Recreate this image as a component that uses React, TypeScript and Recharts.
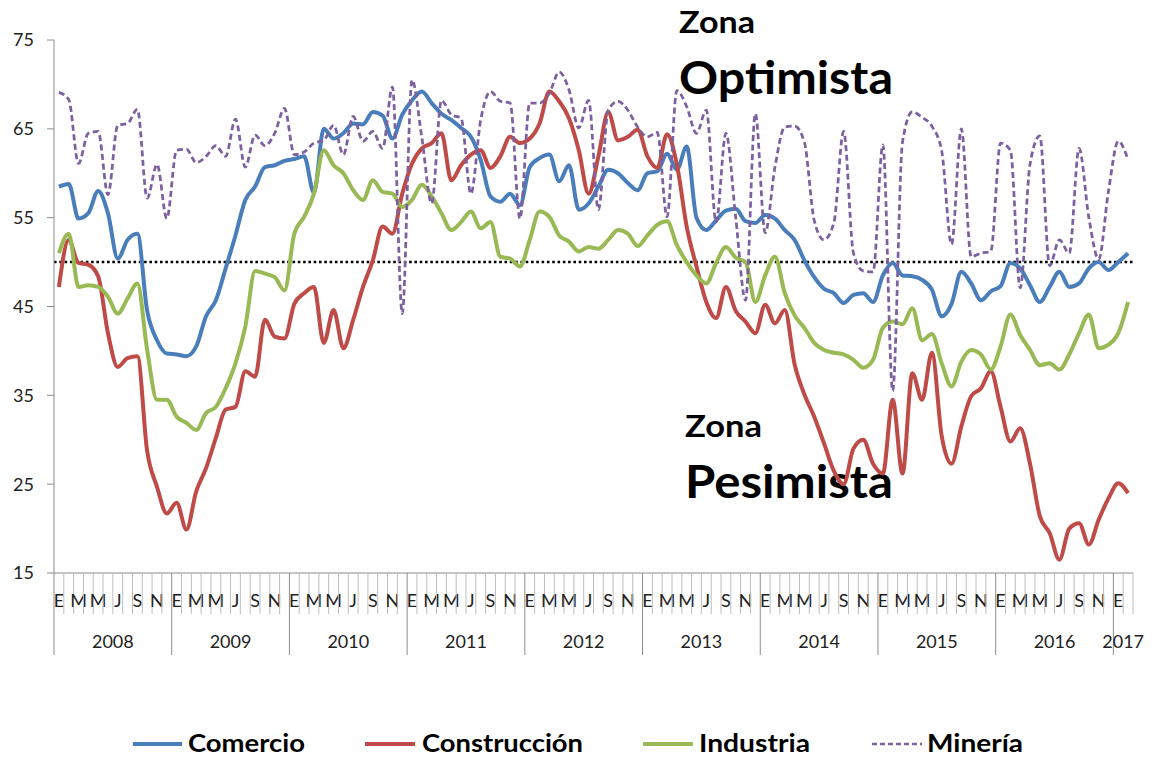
import React from 'react';
import { LineChart, Line, XAxis, YAxis, ReferenceLine, Legend, Customized } from 'recharts';

const MONTH_LETTERS = ['E', 'F', 'M', 'A', 'M', 'J', 'J', 'A', 'S', 'O', 'N', 'D'];
const START_YEAR = 2008;
const Y_TICKS = [15, 25, 35, 45, 55, 65, 75];

const comercio = [
  58.5, 58.8, 54.9, 55.5, 58.0, 55.5, 50.4, 52.5, 53.2, 44.5,
  41.2, 39.7, 39.6, 39.4, 40.5, 43.9, 45.7, 49.3, 53.0, 57.0,
  58.5, 60.7, 60.9, 61.4, 61.6, 61.9, 57.8, 65.0, 63.9, 64.5,
  65.6, 65.5, 66.9, 66.5, 63.9, 66.6, 68.2, 69.2, 67.9, 66.7,
  66.0, 65.1, 64.1, 61.5, 57.4, 56.8, 57.7, 56.4, 60.7, 61.7,
  62.1, 59.1, 60.9, 55.9, 56.6, 58.5, 60.4, 60.0, 58.9, 58.1,
  60.0, 60.2, 62.2, 60.4, 63.0, 55.0, 53.6, 54.7, 55.8, 56.0,
  54.6, 54.4, 55.3, 54.9, 53.6, 52.5, 50.2, 48.3, 47.0, 46.5,
  45.4, 46.3, 46.5, 45.5, 48.5, 49.9, 48.5, 48.4, 48.0, 46.9,
  43.9, 45.3, 48.9, 47.6, 45.7, 46.7, 47.3, 49.9, 49.3, 47.4,
  45.5, 47.2, 48.9, 47.2, 47.6, 49.3, 50.0, 49.1, 50.0, 51.0,
];

const construccion = [
  47.2, 52.5, 49.9, 49.7, 48.4, 42.0, 38.2, 39.2, 39.4, 28.7,
  24.7, 21.7, 22.9, 19.9, 24.2, 26.8, 30.2, 33.4, 33.7, 37.7,
  37.1, 43.5, 41.6, 41.4, 45.3, 46.5, 47.2, 40.9, 44.6, 40.3,
  43.5, 47.2, 50.2, 54.0, 53.2, 57.7, 61.1, 62.8, 63.4, 64.5,
  59.2, 60.9, 62.1, 62.6, 60.6, 61.9, 64.1, 63.4, 63.9, 65.6,
  69.2, 68.1, 66.2, 62.6, 57.7, 61.9, 66.9, 63.7, 64.1, 64.9,
  61.9, 60.6, 64.4, 61.0, 54.0, 49.5, 45.5, 43.7, 47.2, 44.5,
  43.3, 42.0, 45.2, 43.1, 44.6, 38.5, 35.1, 32.6, 29.6, 26.5,
  25.0, 29.0, 30.0, 27.3, 26.2, 34.5, 26.2, 37.5, 34.5, 39.8,
  30.4, 27.3, 31.5, 34.9, 35.8, 37.7, 33.7, 29.8, 31.3, 27.3,
  21.4, 19.5, 16.5, 20.0, 20.6, 18.2, 21.0, 23.4, 25.1, 24.0,
];

const industria = [
  51.0, 53.2, 47.2, 47.4, 47.2, 46.1, 44.2, 45.9, 47.6, 40.1,
  34.5, 34.5, 32.6, 31.9, 31.1, 33.0, 33.7, 35.8, 38.6, 42.7,
  49.0, 48.7, 48.3, 46.8, 53.2, 55.1, 57.7, 62.6, 60.9, 60.0,
  58.1, 57.0, 59.2, 57.9, 57.7, 56.2, 57.0, 58.7, 57.4, 55.5,
  53.6, 54.5, 55.7, 53.8, 54.5, 50.6, 50.4, 49.5, 52.5, 55.7,
  55.1, 53.0, 52.3, 51.2, 51.7, 51.5, 52.5, 53.6, 53.2, 51.8,
  53.0, 54.2, 54.6, 51.9, 50.0, 48.5, 47.6, 49.9, 51.7, 50.5,
  50.0, 45.5, 48.5, 50.6, 46.5, 44.0, 42.6, 40.9, 40.1, 39.8,
  39.6, 39.0, 38.1, 39.0, 42.6, 43.3, 43.0, 44.8, 41.2, 41.9,
  38.6, 36.0, 38.8, 40.1, 39.6, 37.9, 40.5, 44.1, 41.8, 40.1,
  38.4, 38.6, 37.9, 39.6, 42.0, 44.1, 40.3, 40.7, 42.0, 45.5,
];

const mineria = [
  69.1, 68.3, 61.1, 64.5, 64.7, 57.6, 65.4, 65.6, 67.2, 57.2,
  61.0, 54.9, 62.6, 62.7, 61.2, 61.9, 63.1, 61.9, 66.1, 60.7,
  64.3, 63.1, 64.5, 67.3, 62.1, 62.4, 63.4, 63.7, 65.4, 62.1,
  66.4, 63.6, 64.7, 62.8, 69.7, 44.2, 70.5, 64.0, 56.6, 68.2,
  66.6, 66.2, 57.7, 66.0, 69.2, 68.1, 67.9, 54.9, 67.9, 67.9,
  69.0, 71.4, 69.4, 65.1, 68.2, 55.9, 67.1, 68.1, 67.1, 65.2,
  64.1, 64.6, 55.1, 69.3, 67.5, 64.5, 67.1, 54.5, 64.5, 55.0,
  45.7, 66.7, 53.3, 60.7, 65.2, 65.3, 63.5, 54.7, 52.5, 54.4,
  64.7, 51.0, 49.0, 48.9, 63.2, 35.5, 63.5, 66.9, 66.3, 65.3,
  62.5, 52.0, 65.0, 50.6, 51.0, 51.2, 63.4, 62.6, 47.1, 61.0,
  64.2, 49.6, 52.5, 51.0, 62.8, 55.0, 50.3, 58.0, 63.6, 61.5,
];

const N = comercio.length;
const data = comercio.map((v, i) => ({
  idx: i,
  Comercio: v,
  'Construcción': construccion[i],
  Industria: industria[i],
  'Minería': mineria[i],
}));

const W = 1154;
const H = 759;
const M_LEFT = 0;
const Y_W = 54;
const M_RIGHT = 21;
const PLOT_W = W - M_LEFT - Y_W - M_RIGHT;
const STEP = PLOT_W / N;
const FONT = 'Lato, "Open Sans", sans-serif';

const COLORS = {
  Comercio: '#4A7EBB',
  'Construcción': '#BE4B48',
  Industria: '#98B954',
  'Minería': '#7D60A0',
};

const MonthTick = (props: any) => {
  const { x, y, payload } = props;
  const i = Number(payload.value);
  const m = i % 12;
  const left = x - STEP / 2;
  const els: any[] = [];
  els.push(
    <line key="b" x1={left} x2={left} y1={y} y2={y + (m === 0 ? 82 : 41)} stroke={m === 0 ? '#8c8c8c' : '#bdbdbd'} strokeWidth={1} />
  );
  if (i === N - 1) {
    els.push(<line key="e" x1={x + STEP / 2} x2={x + STEP / 2} y1={y} y2={y + 41} stroke="#bdbdbd" strokeWidth={1} />);
  }
  if (m % 2 === 0) {
    els.push(
      <text key="m" x={x} y={y + 34} textAnchor="middle" fontSize={18} fontFamily={FONT} fill="#222">
        {MONTH_LETTERS[m]}
      </text>
    );
  }
  if (m === 0) {
    const span = Math.min(12, N - i);
    els.push(
      <text key="y" x={left + (span * STEP) / 2} y={y + 75} textAnchor="middle" fontSize={18} fontFamily={FONT} fill="#222">
        {START_YEAR + Math.floor(i / 12)}
      </text>
    );
  }
  return <g>{els}</g>;
};

const LEGEND_ITEMS = [
  { name: 'Comercio', x1: 133, x2: 182, tx: 188, tw: 117, dash: false },
  { name: 'Construcción', x1: 365, x2: 415, tx: 422, tw: 161, dash: false },
  { name: 'Industria', x1: 643, x2: 693, tx: 699, tw: 111, dash: false },
  { name: 'Minería', x1: 872, x2: 922, tx: 927, tw: 96, dash: true },
];

const renderLegend = () => (
  <svg width={W} height={34} style={{ display: 'block' }}>
    {LEGEND_ITEMS.map((it) => (
      <g key={it.name}>
        <line
          x1={it.x1}
          x2={it.x2}
          y1={19}
          y2={19}
          stroke={(COLORS as any)[it.name]}
          strokeWidth={it.dash ? 2.5 : 4}
          strokeDasharray={it.dash ? '5 3' : undefined}
        />
        <text x={it.tx} y={27} fontSize={24} fontWeight={700} fontFamily={FONT} fill="#000" textLength={it.tw} lengthAdjust="spacingAndGlyphs">
          {it.name}
        </text>
      </g>
    ))}
  </svg>
);

const Annotations = () => (
  <g fontFamily={FONT} fontWeight={700} fill="#000">
    <text x={679} y={33} fontSize={31} textLength={76} lengthAdjust="spacingAndGlyphs">Zona</text>
    <text x={679} y={94} fontSize={46} textLength={214} lengthAdjust="spacingAndGlyphs">Optimista</text>
    <text x={685} y={437} fontSize={31} textLength={77} lengthAdjust="spacingAndGlyphs">Zona</text>
    <text x={685} y={498} fontSize={46} textLength={208} lengthAdjust="spacingAndGlyphs">Pesimista</text>
  </g>
);

export default function App() {
  return (
    <div style={{ position: 'absolute', left: 0, top: 0, width: W, height: H, background: '#fff' }}>
      <LineChart width={W} height={H} data={data} margin={{ top: 40, right: M_RIGHT, bottom: 0, left: M_LEFT }}>
        <XAxis
          dataKey="idx"
          type="category"
          interval={0}
          height={152}
          tickSize={0}
          tickMargin={0}
          tickLine={false}
          axisLine={{ stroke: '#8c8c8c', strokeWidth: 1 }}
          padding={{ left: STEP / 2, right: STEP / 2 }}
          tick={<MonthTick />}
        />
        <YAxis
          domain={[15, 75]}
          ticks={Y_TICKS}
          width={Y_W}
          interval={0}
          tickSize={7}
          tickMargin={13}
          axisLine={{ stroke: '#8c8c8c', strokeWidth: 1 }}
          tickLine={{ stroke: '#8c8c8c', strokeWidth: 1 }}
          tick={{ fontSize: 18, fontFamily: FONT, fill: '#222' }}
        />
        <ReferenceLine y={50} stroke="#000" strokeWidth={2.5} strokeDasharray="2.6 2.7" />
        <Line type="monotone" dataKey="Comercio" stroke={COLORS.Comercio} strokeWidth={4} dot={false} isAnimationActive={false} />
        <Line type="monotone" dataKey="Construcción" stroke={COLORS['Construcción']} strokeWidth={4} dot={false} isAnimationActive={false} />
        <Line type="monotone" dataKey="Industria" stroke={COLORS.Industria} strokeWidth={4} dot={false} isAnimationActive={false} />
        <Line type="monotone" dataKey="Minería" stroke={COLORS['Minería']} strokeWidth={2.75} strokeDasharray="6 3.5" dot={false} isAnimationActive={false} />
        <Legend verticalAlign="bottom" content={renderLegend} wrapperStyle={{ left: 0, width: W, height: 34 }} />
        <Customized component={Annotations} />
      </LineChart>
    </div>
  );
}
